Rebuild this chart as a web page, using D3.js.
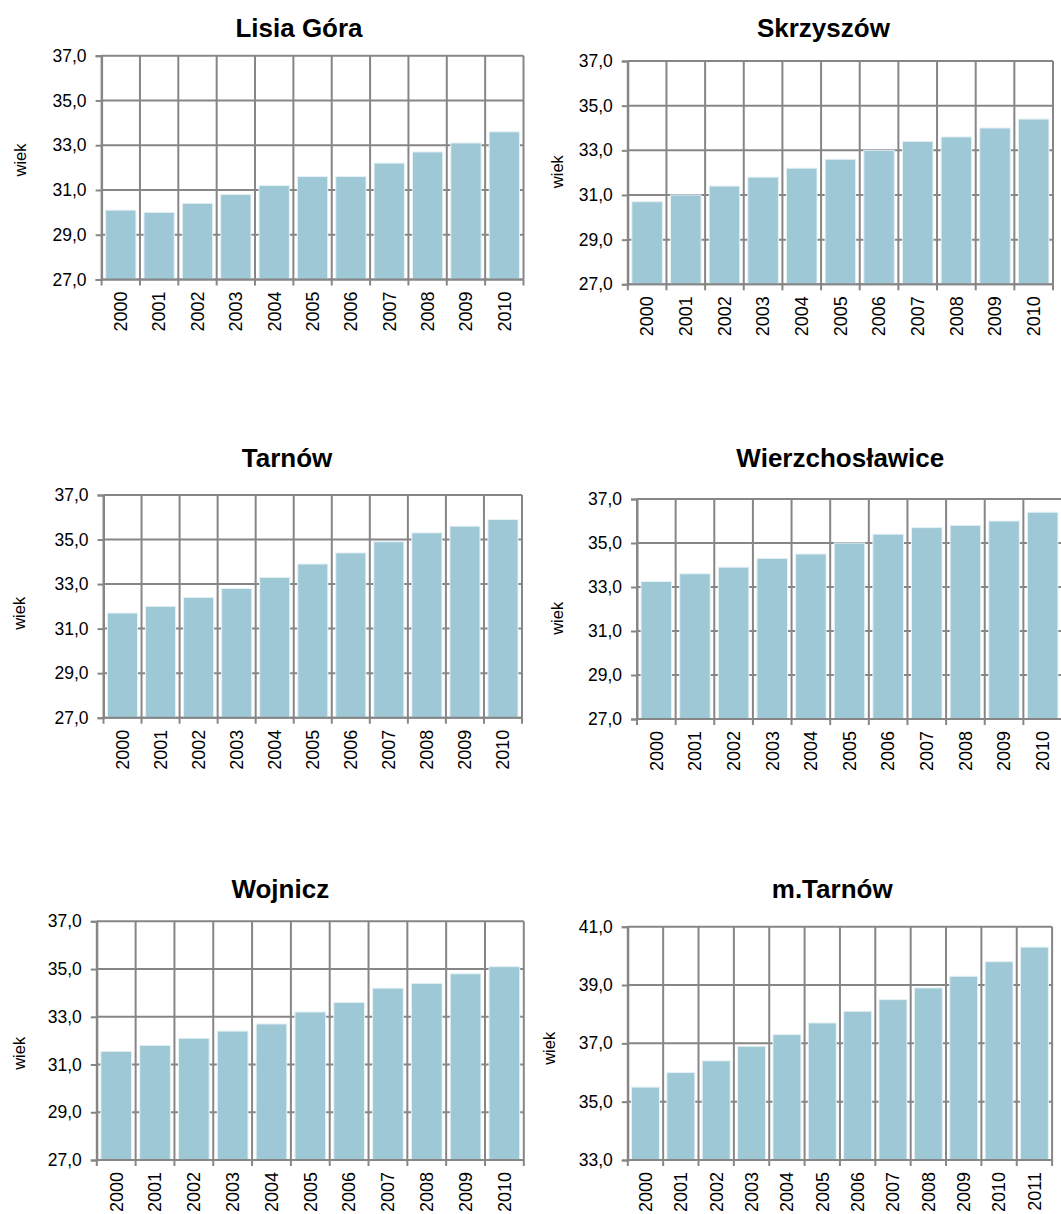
<!DOCTYPE html>
<html>
<head>
<meta charset="utf-8">
<script src="https://cdn.jsdelivr.net/npm/d3@7"></script>
<style>
  html, body { margin: 0; padding: 0; background: #fff; }
  svg { display: block; }
  text { font-family: "Liberation Sans", Arial, sans-serif; fill: #000; }
</style>
</head>
<body>
<svg id="chart" width="1061" height="1214"></svg>
<script>
// ---------- DATA ----------
const years10 = ["2000","2001","2002","2003","2004","2005","2006","2007","2008","2009","2010"];
const years11 = ["2000","2001","2002","2003","2004","2005","2006","2007","2008","2009","2010","2011"];

const titles = ["Lisia Góra", "Skrzyszów", "Tarnów", "Wierzchosławice", "Wojnicz", "m.Tarnów"];
const axisTitle = "wiek";

const lisiaGora       = [30.1, 30.0, 30.4, 30.8, 31.2, 31.6, 31.6, 32.2, 32.7, 33.1, 33.6];
const skrzyszow       = [30.7, 31.0, 31.4, 31.8, 32.2, 32.6, 33.0, 33.4, 33.6, 34.0, 34.4];
const tarnow          = [31.7, 32.0, 32.4, 32.8, 33.3, 33.9, 34.4, 34.9, 35.3, 35.6, 35.9];
const wierzchoslawice = [33.25, 33.6, 33.9, 34.3, 34.5, 35.0, 35.4, 35.7, 35.8, 36.0, 36.4];
const wojnicz         = [31.55, 31.8, 32.1, 32.4, 32.7, 33.2, 33.6, 34.2, 34.4, 34.8, 35.1];
const mTarnow         = [35.5, 36.0, 36.4, 36.9, 37.3, 37.7, 38.1, 38.5, 38.9, 39.3, 39.8, 40.3];

const yDomainA = [27, 37];
const yTicksA  = [27, 29, 31, 33, 35, 37];
const yDomainB = [33, 41];
const yTicksB  = [33, 35, 37, 39, 41];

// ---------- LAYOUT (positions only) ----------
const layout = [
  { left: 101.6, right: 523.5, top: 55.7,  bottom: 279.5, tx: 299,   ty: 36.5,  wx: 20,   wy: 160 },
  { left: 627.8, right: 1053,  top: 61,    bottom: 284.3, tx: 823.4, ty: 36.5,  wx: 557,  wy: 171.7 },
  { left: 103.5, right: 522,   top: 495,   bottom: 717.7, tx: 287,   ty: 466.7, wx: 19,   wy: 613.3 },
  { left: 637,   right: 1062,  top: 499,   bottom: 719,   tx: 840.3, ty: 466.7, wx: 557,  wy: 618.3 },
  { left: 96.8,  right: 523.8, top: 921.3, bottom: 1160,  tx: 280.3, ty: 898.3, wx: 19,   wy: 1053.3 },
  { left: 627.8, right: 1052.1,top: 926.7, bottom: 1160,  tx: 832.2, ty: 898.3, wx: 549,  wy: 1048.3 }
];

const panels = [
  { cats: years10, vals: lisiaGora,       dom: yDomainA, ticks: yTicksA },
  { cats: years10, vals: skrzyszow,       dom: yDomainA, ticks: yTicksA },
  { cats: years10, vals: tarnow,          dom: yDomainA, ticks: yTicksA },
  { cats: years10, vals: wierzchoslawice, dom: yDomainA, ticks: yTicksA },
  { cats: years10, vals: wojnicz,         dom: yDomainA, ticks: yTicksA },
  { cats: years11, vals: mTarnow,         dom: yDomainB, ticks: yTicksB }
];

// ---------- STYLE ----------
const gridColor = "#868686";
const barColor = "#9fc8d7";
const barStroke = "#e4f1f5";
const fmt = v => d3.format(".1f")(v).replace(".", ",");

const svg = d3.select("#chart");
svg.append("rect").attr("width", 1061).attr("height", 1214).attr("fill", "#fff");

panels.forEach((p, i) => {
  const L = layout[i];
  const g = svg.append("g");

  const x = d3.scaleBand().domain(p.cats).range([L.left, L.right])
    .paddingInner(0.21).paddingOuter(0.105);
  const xGrid = d3.scaleBand().domain(p.cats).range([L.left, L.right]).padding(0);
  const y = d3.scaleLinear().domain(p.dom).range([L.bottom, L.top]);

  // horizontal gridlines
  g.append("g").selectAll("line").data(p.ticks).join("line")
    .attr("x1", L.left).attr("x2", L.right)
    .attr("y1", d => y(d)).attr("y2", d => y(d))
    .attr("stroke", gridColor).attr("stroke-width", 2);

  // vertical gridlines at band boundaries (incl. right edge)
  const bounds = p.cats.map(c => xGrid(c)).concat([xGrid(p.cats[p.cats.length - 1]) + xGrid.bandwidth()]);
  g.append("g").selectAll("line").data(bounds).join("line")
    .attr("x1", d => d).attr("x2", d => d)
    .attr("y1", L.top).attr("y2", L.bottom)
    .attr("stroke", gridColor).attr("stroke-width", 2);

  // bars
  g.append("g").selectAll("rect").data(p.vals).join("rect")
    .attr("x", (d, j) => x(p.cats[j]))
    .attr("width", x.bandwidth())
    .attr("y", d => y(d))
    .attr("height", d => y(p.dom[0]) - y(d))
    .attr("fill", barColor)
    .attr("stroke", barStroke).attr("stroke-width", 1);

  // y axis
  const yAxis = d3.axisLeft(y).tickValues(p.ticks).tickFormat(fmt).tickSize(6).tickPadding(9);
  const ya = g.append("g").attr("transform", `translate(${L.left},0)`).call(yAxis);
  ya.select(".domain").attr("stroke", gridColor).attr("stroke-width", 2);
  ya.selectAll(".tick line").attr("stroke", gridColor).attr("stroke-width", 2);
  ya.selectAll(".tick text").attr("font-size", 17.5).attr("fill", "#000")
    .attr("font-family", "'Liberation Sans', Arial, sans-serif");

  // x axis (ticks at band boundaries, labels rotated)
  const xa = g.append("g").attr("transform", `translate(0,${L.bottom})`);
  xa.append("line").attr("x1", L.left).attr("x2", L.right).attr("y1", 0).attr("y2", 0)
    .attr("stroke", gridColor).attr("stroke-width", 2);
  xa.selectAll("line.tk").data(bounds).join("line").attr("class", "tk")
    .attr("x1", d => d).attr("x2", d => d).attr("y1", 0).attr("y2", 6)
    .attr("stroke", gridColor).attr("stroke-width", 2);
  xa.selectAll("text").data(p.cats).join("text")
    .attr("transform", d => `translate(${xGrid(d) + xGrid.bandwidth() / 2},12) rotate(-90)`)
    .attr("text-anchor", "end")
    .attr("dy", "0.35em")
    .attr("font-size", 18)
    .text(d => d);

  // title
  g.append("text").attr("x", L.tx).attr("y", L.ty)
    .attr("text-anchor", "middle").attr("font-weight", "bold").attr("font-size", 26)
    .text(titles[i]);

  // axis title
  g.append("text")
    .attr("transform", `translate(${L.wx},${L.wy}) rotate(-90)`)
    .attr("text-anchor", "middle").attr("dy", "0.35em")
    .attr("font-size", 16.5)
    .text(axisTitle);
});
</script>
</body>
</html>
